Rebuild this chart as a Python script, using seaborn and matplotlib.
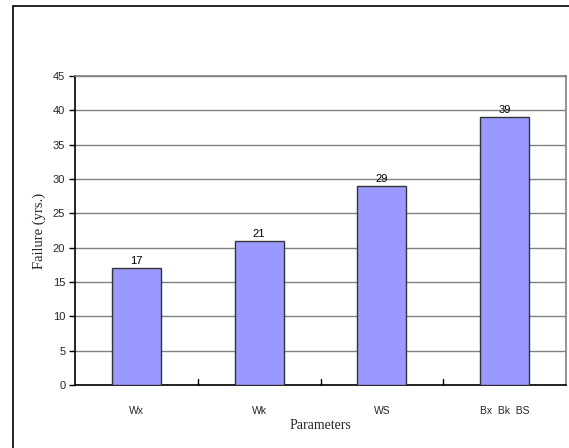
import matplotlib
matplotlib.use("Agg")
import matplotlib.pyplot as plt
from matplotlib.patches import Rectangle
import seaborn as sns
import pandas as pd

categories = ["Wx", "Wk", "WS", "Bx  Bk  BS"]
failure_years = [17, 21, 29, 39]
y_ticks = [0, 5, 10, 15, 20, 25, 30, 35, 40, 45]

df = pd.DataFrame({"Parameters": categories, "Failure": failure_years})

sns.set_theme(style="white")
plt.rcParams["font.family"] = ["Liberation Sans", "DejaVu Sans"]

W, H = 569, 448
fig = plt.figure(figsize=(W / 100, H / 100), dpi=100)
fig.patch.set_facecolor("white")

# outer chart frame (only the left and top edges fall inside the image)
fig.add_artist(Rectangle((13 / W, -0.2), 1.5, 1.2 - 6 / H,
                         transform=fig.transFigure, fill=False,
                         edgecolor="black", linewidth=1.2))

ax = fig.add_axes([75 / W, (H - 385) / H, (566 - 75) / W, (385 - 76) / H])

sns.barplot(data=df, x="Parameters", y="Failure", ax=ax, color="#9999FF",
            saturation=1, width=0.4, edgecolor="#333333", linewidth=1.0,
            zorder=3)

ax.set_ylim(0, 45)
ax.set_yticks(y_ticks)
ax.set_xlim(-0.5, len(categories) - 0.5)
ax.yaxis.grid(True, color="#808080", linewidth=1.0, zorder=0)
ax.xaxis.grid(False)

for i, v in enumerate(failure_years):
    ax.text(i, v + 0.3, str(v), ha="center", va="bottom", fontsize=8,
            color="black", zorder=4)

# category separators drawn as inward ticks on the x axis
ax.set_xticks(range(len(categories)))
ax.set_xticklabels(categories, fontsize=7.5)
ax.tick_params(axis="x", length=0, pad=15)
for b in [0.5, 1.5, 2.5]:
    ax.plot([b, b], [0, 0.9], color="black", linewidth=1.0, zorder=4,
            clip_on=False)

ax.tick_params(axis="y", labelsize=8, length=4, width=1.0, direction="out",
               color="black", pad=3, left=True)

for side in ["top", "right"]:
    ax.spines[side].set_color("#808080")
    ax.spines[side].set_linewidth(1.2)
for side in ["left", "bottom"]:
    ax.spines[side].set_color("black")
    ax.spines[side].set_linewidth(1.2)

ax.set_xlabel("Parameters", family=["Liberation Serif", "DejaVu Serif"],
              fontsize=10, labelpad=2)
ax.set_ylabel("Failure (yrs.)", family=["Liberation Serif", "DejaVu Serif"],
              fontsize=10.5, labelpad=5)

fig.savefig("out.png", dpi=100)
